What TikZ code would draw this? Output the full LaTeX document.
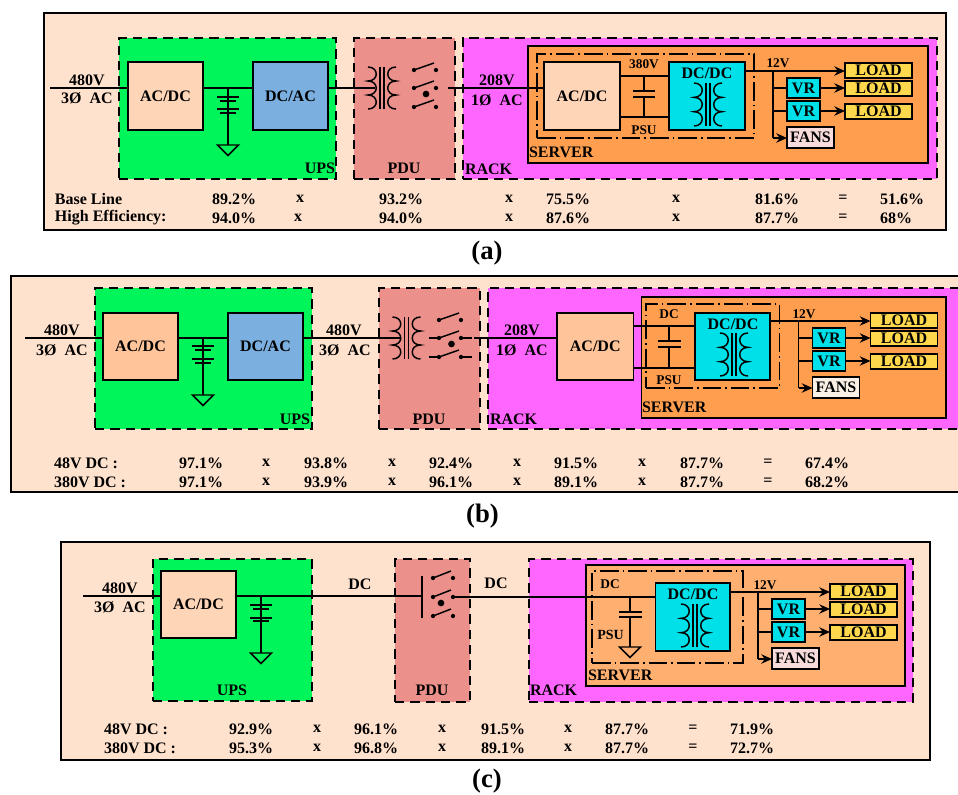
\documentclass[tikz,border=0pt]{standalone}
\usepackage{fontspec}
\setmainfont{Liberation Serif}[BoldFont={Liberation Serif Bold}]
\usetikzlibrary{arrows.meta,calc}
\definecolor{panelc}{HTML}{FFE2CD}
\definecolor{upsc}{HTML}{00F55A}
\definecolor{pduc}{HTML}{EB908A}
\definecolor{rackc}{HTML}{FF66FF}
\definecolor{srvc}{HTML}{FF9E4F}
\definecolor{srvl}{HTML}{FFB070}
\definecolor{peach}{HTML}{FFD5B8}
\definecolor{peachd}{HTML}{FFC499}
\definecolor{bluec}{HTML}{7AAFE0}
\definecolor{cyanc}{HTML}{00E0E8}
\definecolor{loadc}{HTML}{FFD84D}
\definecolor{fanc}{HTML}{F8DCDC}
\definecolor{fanl}{HTML}{FBF0E6}
\tikzset{
  x=0.75pt,y=-0.75pt,
  wire/.style={line width=1.4pt,line cap=butt},
  thin wire/.style={line width=1.1pt},
  arrowed/.style={wire,-{Stealth[length=8pt,width=7pt]}},
  blk/.style={draw=black,line width=1.1pt,inner sep=0pt,outer sep=0pt,font=\fontsize{12}{14}\bfseries\selectfont,text=black},
  panel/.style={blk,line width=1.5pt,fill=panelc},
  zone/.style={blk,line width=1.2pt,dash pattern=on 7pt off 4.5pt},
  psubox/.style={blk,fill=none,line width=0.9pt,dash pattern=on 14pt off 3pt on 1.2pt off 3pt},
  lab/.style={inner sep=0pt,outer sep=0pt,font=\fontsize{12}{14}\bfseries\selectfont,text=black},
  slab/.style={lab,font=\fontsize{10}{12}\bfseries\selectfont},
  mlab/.style={lab,font=\fontsize{10.5}{12}\bfseries\selectfont},
  captxt/.style={lab,font=\fontsize{20}{24}\bfseries\selectfont,text=black},
}
% name, style, x1, y1, x2, y2, text
\newcommand\bx[7]{%
  \pgfmathsetmacro\bxw{(#5-#3)*0.75}%
  \pgfmathsetmacro\bxh{(#6-#4)*0.75}%
  \node[blk,#2,minimum width=\bxw pt,minimum height=\bxh pt] (#1) at ({(#3+#5)/2},{(#4+#6)/2}) {#7};}
\newcommand\lbl[5][]{\node[lab,#1] (#2) at (#3,#4) {#5};}
\newcommand\rowvals[3]{\foreach \xx/\vv [count=\ii] in {#3} {\node[lab] (#1-\ii) at (\xx,#2) {\vv};}}
% transformer: name, centre x, top y, bottom y
\newcommand\xfmr[4]{%
  \pgfmathsetmacro\xl{#2-14}\pgfmathsetmacro\xr{#2+14}%
  \pgfmathsetmacro\xa{#2-3}\pgfmathsetmacro\xb{#2+3}%
  \pgfmathsetmacro\yb{#3+(#4-#3)/3}\pgfmathsetmacro\yc{#3+2*(#4-#3)/3}%
  \pgfmathsetmacro\ym{(#3+#4)/2}%
  \draw[thin wire] (\xl,#3) .. controls (\xa,#3) and (\xa,\yb) .. (\xl,\yb)
     .. controls (\xa,\yb) and (\xa,\yc) .. (\xl,\yc)
     .. controls (\xa,\yc) and (\xa,#4) .. (\xl,#4);
  \draw[thin wire] (\xr,#3) .. controls (\xb,#3) and (\xb,\yb) .. (\xr,\yb)
     .. controls (\xb,\yb) and (\xb,\yc) .. (\xr,\yc)
     .. controls (\xb,\yc) and (\xb,#4) .. (\xr,#4);
  \draw[thin wire] (#2-2,#3) -- (#2-2,#4);
  \draw[thin wire] (#2+2,#3) -- (#2+2,#4);
  \coordinate (#1in) at (#2-7,\ym);}
% switch: name, xl, xr, y1, y2, y3, centre x, centre y
\newcommand\swit[8]{%
  \foreach \yy/\nn in {#4/1,#5/2,#6/3}{%
    \coordinate (#1l\nn) at (#2,\yy);
    \coordinate (#1r\nn) at (#3,\yy);
    \fill (#1l\nn) circle (1.6pt);
    \fill (#1r\nn) circle (1.6pt);
    \draw[thin wire] (#1l\nn) -- ($(#1r\nn)+(-2,-7)$);
  }%
  \fill (#7,#8) circle (2.5pt);}
% battery: x, y1, y2, y3, y4, half width
\newcommand\batt[6]{%
  \draw[thin wire] (#1-#6,#2) -- (#1+#6,#2);
  \draw[thin wire] (#1-#6+3,#3) -- (#1+#6-3,#3);
  \draw[thin wire] (#1-#6,#4) -- (#1+#6,#4);
  \draw[thin wire] (#1-#6+3,#5) -- (#1+#6-3,#5);}
% ground triangle: name, x, top y
\newcommand\gnd[3]{%
  \coordinate (#1) at (#2,#3);
  \draw[thin wire,line join=miter] (#2-10.5,#3) -- (#2+10.5,#3) -- (#2,#3+10.5) -- cycle;}
% server output stage in the coordinates of panel (a): prefix, dx, dy, fans fill, dc/dc node
\newcommand\outputs[5]{%
\begin{scope}[shift={(#2,#3)}]
  \bx{#1vra}{fill=cyanc}{787}{78}{820}{98}{VR}
  \bx{#1vrb}{fill=cyanc}{787}{101}{820}{121}{VR}
  \bx{#1fan}{fill=#4}{787}{127}{834}{148}{FANS}
  \bx{#1la}{fill=loadc}{845}{63}{912}{78}{LOAD}
  \bx{#1lb}{fill=loadc}{845}{81}{912}{96}{LOAD}
  \bx{#1lc}{fill=loadc}{845}{104}{912}{119}{LOAD}
  \coordinate (#1bus) at (773,71);
  \coordinate (#1bot) at (773,138);
  \draw[arrowed] (#5.east |- #1bus) -- (#1la.west |- #1bus);
  \draw[wire] (#1bus) -- (#1bot);
  \draw[arrowed] (#1bot) -- (#1fan.west |- #1bot);
  \draw[wire] (#1vra.west -| #1bus) -- (#1vra.west);
  \draw[wire] (#1vrb.west -| #1bus) -- (#1vrb.west);
  \draw[arrowed] (#1vra.east) -- (#1lb.west |- #1vra.east);
  \draw[arrowed] (#1vrb.east) -- (#1lc.west |- #1vrb.east);
\end{scope}}
\begin{document}
\begin{tikzpicture}
\useasboundingbox (0,0) rectangle (958,794);
\clip (0,0) rectangle (958,794);
\fill[white] (0,0) rectangle (958,794);

%%%%% panel (a)
\bx{pa}{panel}{44}{13}{946}{230}{}
\bx{aups}{zone,fill=upsc}{119}{38}{336}{179}{}
\bx{apdu}{zone,fill=pduc}{354}{38}{455}{179}{}
\bx{arack}{zone,fill=rackc}{463}{38}{937}{179}{}
\bx{asrv}{fill=srvc}{528}{46}{928}{163}{}
\bx{apsu}{psubox}{537}{54}{754}{138}{}
\bx{aacdc}{fill=peach}{128}{62}{203}{130}{AC/DC}
\bx{adcac}{fill=bluec}{253}{62}{328}{130}{DC/AC}
\bx{aac2}{fill=peach}{544}{62}{620}{130}{AC/DC}
\bx{adc}{fill=cyanc}{669}{62}{745}{130}{}
\coordinate (ain) at (50,88);
\coordinate (abj) at (228,88);
\draw[wire] (ain) -- (ain -| aacdc.west);
\draw[wire] (aacdc.east |- ain) -- (adcac.west |- ain);
\xfmr{ax}{382}{67}{109}
\draw[wire] (adcac.east |- ain) -- (axin);
\swit{as}{414}{436}{70}{88}{107}{426}{94}
\coordinate (aout) at (448,88);
\draw[wire] (aout) -- (aout -| aac2.west);
\batt{228}{97}{101}{109}{113}{11}
\gnd{agnd}{228}{145}
\draw[thin wire] (abj) -- (agnd);
\coordinate (atop) at (644,76);
\coordinate (alow) at (644,117);
\draw[wire] (aac2.east |- atop) -- (adc.west |- atop);
\draw[wire] (aac2.east |- alow) -- (adc.west |- alow);
\draw[thin wire] (atop) -- (644,91);
\draw[thin wire] (644,97) -- (alow);
\draw[wire] (633,91) -- (655,91);
\draw[wire] (633,97) -- (655,97);
\xfmr{ax2}{708}{83}{126}
\outputs{ao}{0}{0}{fanc}{adc}
\lbl[slab]{aV2}{644}{64}{380V}
\lbl[slab]{aP}{644}{130}{PSU}
\lbl[slab]{aV12}{778}{63}{12V}
\lbl{aDD}{707}{73}{DC/DC}
\lbl{aV}{87}{80}{480V}
\lbl{aA}{87}{98}{3Ø\ \ AC}
\lbl{aV1}{497}{80}{208V}
\lbl{aA1}{497}{100}{1Ø\ \ AC}
\lbl[anchor=east]{aU}{335}{168}{UPS}
\lbl{aPD}{404}{168}{PDU}
\lbl[anchor=west]{aR}{465}{169}{RACK}
\lbl[anchor=west]{aS}{529}{152}{SERVER}
\lbl[anchor=west]{aT1}{55}{199}{Base Line}
\lbl[anchor=west]{aT2}{55}{218}{High Efficiency:}
\rowvals{ar}{199}{234/89.2\%,300/x,401/93.2\%,509/x,568/75.5\%,676/x,777/81.6\%,843/=,902/51.6\%}
\rowvals{as}{218}{234/94.0\%,298/x,401/94.0\%,509/x,568/87.6\%,676/x,777/87.7\%,843/=,896/68\%}
\node[captxt] (capa) at (487,253) {(a)};

%%%%% panel (b)
\bx{pb}{panel}{11}{276}{975}{492}{}
\bx{bups}{zone,fill=upsc}{95}{288}{312}{429}{}
\bx{bpdu}{zone,fill=pduc}{379}{288}{480}{429}{}
\bx{brack}{zone,fill=rackc}{488}{288}{975}{429}{}
\bx{bsrv}{fill=srvc}{641.5}{297}{946}{418}{}
\bx{bpsu}{psubox}{646}{304}{779.5}{388}{}
\bx{bacdc}{fill=peachd}{103}{313}{178}{380}{AC/DC}
\bx{bdcac}{fill=bluec}{228}{313}{303}{380}{DC/AC}
\bx{bac2}{fill=peachd}{557}{313}{633.5}{380}{AC/DC}
\bx{bdc}{fill=cyanc}{695}{313}{770}{380}{}
\coordinate (bin) at (25,338);
\coordinate (bbj) at (203,338);
\draw[wire] (bin) -- (bin -| bacdc.west);
\draw[wire] (bacdc.east |- bin) -- (bdcac.west |- bin);
\xfmr{bx}{406.5}{317}{359}
\draw[wire] (bdcac.east |- bin) -- (bxin);
\swit{bs}{439}{461}{320}{338}{357}{451.5}{344}
\coordinate (bout) at (474,338);
\draw[wire] (bout) -- (bout -| bac2.west);
\draw[thin wire] (429,338) -- (bsl2);
\draw[thin wire] (429,357) -- (bsl3);
\draw[thin wire] (bsr2) -- (472,338);
\draw[thin wire] (bsr3) -- (472,357);
\batt{203}{346}{350}{359}{363}{11}
\gnd{bgnd}{203}{395}
\draw[thin wire] (bbj) -- (bgnd);
\coordinate (btop) at (669,326);
\coordinate (blow) at (669,368);
\draw[wire] (bac2.east |- btop) -- (bdc.west |- btop);
\draw[wire] (bac2.east |- blow) -- (bdc.west |- blow);
\draw[thin wire] (btop) -- (669,341);
\draw[thin wire] (669,347) -- (blow);
\draw[wire] (657.5,341) -- (681,341);
\draw[wire] (657.5,347) -- (681,347);
\xfmr{bx2}{734}{333}{376}
\outputs{bo}{25.5}{250}{fanl}{bdc}
\lbl[slab]{bDC}{669}{314}{DC}
\lbl[slab]{bP}{669}{380}{PSU}
\lbl[slab]{bV12}{804}{314}{12V}
\lbl{bDD}{733}{324}{DC/DC}
\lbl{bV}{62}{330}{480V}
\lbl{bA}{62}{350}{3Ø\ \ AC}
\lbl{bV3}{344}{330}{480V}
\lbl{bA3}{345}{350}{3Ø\ \ AC}
\lbl{bV1}{522}{330}{208V}
\lbl{bA1}{522}{350}{1Ø\ \ AC}
\lbl[anchor=east]{bU}{310}{419}{UPS}
\lbl{bPD}{429}{419}{PDU}
\lbl[anchor=west]{bR}{490}{419}{RACK}
\lbl[anchor=west]{bS}{642}{407}{SERVER}
\lbl[anchor=west]{bT1}{54}{463}{48V DC :}
\lbl[anchor=west]{bT2}{54}{482}{380V DC :}
\rowvals{br}{463}{201/97.1\%,266/x,326/93.8\%,392/x,451/92.4\%,517/x,576/91.5\%,642/x,702/87.7\%,768/=,827/67.4\%}
\rowvals{bt}{482}{201/97.1\%,266/x,326/93.9\%,392/x,451/96.1\%,517/x,576/89.1\%,642/x,702/87.7\%,768/=,827/68.2\%}
\node[captxt] (capb) at (482.5,516) {(b)};

%%%%% panel (c)
\bx{pc}{panel}{61}{542}{930}{760}{}
\bx{cups}{zone,fill=upsc}{153}{559}{312}{701}{}
\bx{cpdu}{zone,fill=pduc}{395}{559}{470}{702}{}
\bx{crack}{zone,fill=rackc}{529}{559}{913}{702}{}
\bx{csrv}{fill=srvl}{586}{565}{905}{686}{}
\bx{cpsu}{psubox}{592}{571}{743}{663}{}
\bx{cacdc}{fill=peach}{161}{571}{236}{638}{AC/DC}
\bx{cdc}{fill=cyanc}{655.5}{583}{730}{651}{}
\coordinate (cin) at (83,596);
\coordinate (cbj) at (261,596);
\coordinate (cbus) at (422,596);
\draw[wire] (cin) -- (cin -| cacdc.west);
\draw[wire] (cacdc.east |- cin) -- (cbus);
\draw[wire] (422,576) -- (422,618);
\swit{cs}{433}{453}{578}{597}{616}{441}{603}
\coordinate (cj) at (630,597);
\draw[wire] (csr2) -- (csr2 -| cdc.west);
\batt{261}{605}{609}{618}{621}{11}
\gnd{cgnd}{261}{653}
\draw[thin wire] (cbj) -- (cgnd);
\gnd{cg2}{630}{647}
\draw[thin wire] (cj) -- (630,612);
\draw[thin wire] (630,617) -- (cg2);
\draw[wire] (619,612) -- (642,612);
\draw[wire] (619,617) -- (642,617);
\xfmr{cx2}{695}{604}{647}
\outputs{co}{-15}{521}{fanc}{cdc}
\lbl[slab]{cDC}{610}{584}{DC}
\lbl[mlab]{cP}{610.5}{635}{PSU}
\lbl[slab]{cV12}{765}{585}{12V}
\lbl{cDD}{693}{594}{DC/DC}
\lbl{cV}{120}{588}{480V}
\lbl{cA}{120}{607}{3Ø\ \ AC}
\lbl{cD1}{360}{584}{DC}
\lbl{cD2}{496}{583}{DC}
\lbl{cU}{232}{690}{UPS}
\lbl{cPD}{432}{690}{PDU}
\lbl[anchor=west]{cR}{530}{690}{RACK}
\lbl[anchor=west]{cS}{588}{675}{SERVER}
\lbl[anchor=west]{cT1}{104}{729}{48V DC :}
\lbl[anchor=west]{cT2}{104}{748}{380V DC :}
\rowvals{cr}{729}{251/92.9\%,317/x,376/96.1\%,442/x,503/91.5\%,568/x,627/87.7\%,693/=,752/71.9\%}
\rowvals{ct}{748}{251/95.3\%,317/x,376/96.8\%,442/x,503/89.1\%,568/x,627/87.7\%,693/=,752/72.7\%}
\node[captxt] (capc) at (487,781) {(c)};
\end{tikzpicture}
\end{document}
